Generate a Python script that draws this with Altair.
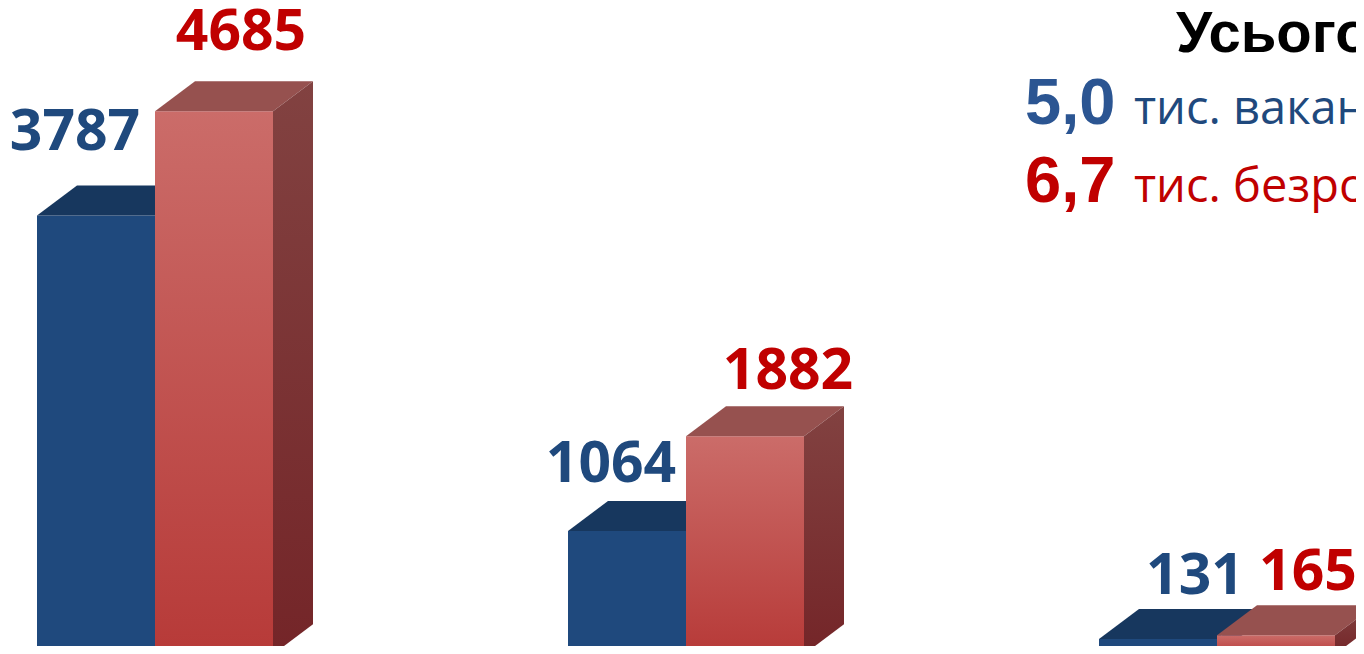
import altair as alt
import pandas as pd

# ---- data ----
groups = ["1", "2", "3"]
vacancies = [3787, 1064, 131]        # blue series
unemployed = [4685, 1882, 165]       # red series
total_title = "Усього:"
total_vac = "5,0"
total_vac_text = "тис. вакансій"
total_unemp = "6,7"
total_unemp_text = "тис. безробітних"

# ---- style / layout (not data) ----
W, H = 1348, 638                      # fits the 1364x654 window with the 8px page margin
PX_PER_GROUP = 531.0
LEFT_PX = 29                          # first bar's left edge inside the plot
X_DOMAIN = [-LEFT_PX / PX_PER_GROUP, (W - LEFT_PX) / PX_PER_GROUP]
PX_PER_VAL = 0.1159
BASE_BELOW = 8.3                      # baseline lies just under the visible area
Y_DOMAIN = [BASE_BELOW / PX_PER_VAL, (H + BASE_BELOW) / PX_PER_VAL]
BAR_W = 118 / PX_PER_GROUP
DEPTH_X = 40 / PX_PER_GROUP
DEPTH_Y = 30 / PX_PER_VAL
# label nudges (pixels) relative to the front-face centre / top
lab_dx = {"blue": [-21, -16, 37], "red": [27, 43, 32]}
lab_rise = {"blue": [65, 49, 45], "red": [61, 47, 45]}

BLUE_FRONT = "#1F497D"
BLUE_TOP = "#17375E"
BLUE_SIDE = "#163A63"
RED_TOP = "#96514F"
BLUE_LABEL = "#1F497D"
RED_LABEL = "#C00000"

red_front_grad = alt.Gradient(
    gradient="linear", x1=0, y1=0, x2=0, y2=1,
    stops=[alt.GradientStop(color="#CB6C69", offset=0),
           alt.GradientStop(color="#B73A38", offset=1)])
red_side_grad = alt.Gradient(
    gradient="linear", x1=0, y1=0, x2=0, y2=1,
    stops=[alt.GradientStop(color="#824241", offset=0),
           alt.GradientStop(color="#742528", offset=1)])

fronts, tops, sides, labels = [], [], [], []
for series, values, offs in (("blue", vacancies, 0.0), ("red", unemployed, BAR_W)):
    for i, (g, v) in enumerate(zip(groups, values)):
        x0 = i + offs
        x1 = x0 + BAR_W
        bid = f"{series}{g}"
        fronts.append({"series": series, "id": bid, "x0": x0, "x1": x1, "v": v})
        for k, (xx, yy, yy2) in enumerate([
                (x0, v, v),
                (x0 + DEPTH_X, v, v + DEPTH_Y),
                (x1, v, v + DEPTH_Y),
                (x1 + DEPTH_X, v + DEPTH_Y, v + DEPTH_Y)]):
            tops.append({"series": series, "id": bid, "k": k, "x": xx, "y": yy, "y2": yy2})
        for k, (xx, yy, yy2) in enumerate([
                (x1, v, 0),
                (x1 + DEPTH_X, v + DEPTH_Y, DEPTH_Y)]):
            sides.append({"series": series, "id": bid, "k": k, "x": xx, "y": yy, "y2": yy2})
        labels.append({
            "series": series,
            "txt": str(v),
            "lx": x0 + BAR_W / 2 + lab_dx[series][i] / PX_PER_GROUP,
            "ly": v + lab_rise[series][i] / PX_PER_VAL,
        })

fronts = pd.DataFrame(fronts)
tops = pd.DataFrame(tops)
sides = pd.DataFrame(sides)
labels = pd.DataFrame(labels)

xs = alt.Scale(domain=X_DOMAIN, nice=False, zero=False)
ys = alt.Scale(domain=Y_DOMAIN, nice=False, zero=False)


def front_layer(series, fill):
    return alt.Chart(fronts[fronts.series == series]).mark_bar(
        color=fill, strokeWidth=0).encode(
        x=alt.X("x0:Q", scale=xs, axis=None),
        x2="x1:Q",
        y=alt.Y("v:Q", scale=ys, axis=None),
        y2=alt.datum(0),
        detail="id:N")


def poly_layers(df, series, fill):
    out = []
    sub = df[df.series == series]
    for bid in sub["id"].unique():
        part = sub[sub["id"] == bid].reset_index(drop=True)
        out.append(alt.Chart(part).mark_area(
            color=fill, strokeWidth=0, interpolate="linear", orient="vertical").encode(
            x=alt.X("x:Q", scale=xs, axis=None),
            y=alt.Y("y:Q", scale=ys, axis=None, stack=None),
            y2="y2:Q"))
    return out


blue_side = poly_layers(sides, "blue", BLUE_SIDE)
blue_front = front_layer("blue", BLUE_FRONT)
blue_top = poly_layers(tops, "blue", BLUE_TOP)
red_front = front_layer("red", red_front_grad)
red_top = poly_layers(tops, "red", RED_TOP)
red_side = poly_layers(sides, "red", red_side_grad)

value_labels = alt.Chart(labels).mark_text(
    font="Open Sans", fontWeight="bold", fontSize=57,
    align="center", baseline="alphabetic").encode(
    x=alt.X("lx:Q", scale=xs, axis=None),
    y=alt.Y("ly:Q", scale=ys, axis=None),
    text="txt:N",
    color=alt.Color("series:N", scale=alt.Scale(
        domain=["blue", "red"], range=[BLUE_LABEL, RED_LABEL]), legend=None))

one = pd.DataFrame({"a": [0]})


def note(text, x, y, font, size, weight, color):
    return alt.Chart(one).mark_text(
        text=text, font=font, fontSize=size, fontWeight=weight, color=color,
        align="left", baseline="alphabetic").encode(
        x=alt.value(x), y=alt.value(y))


notes = [
    note(total_title, 1168, 44, "Liberation Sans", 58, "bold", "#000000"),
    note(total_vac, 1017, 116, "Liberation Sans", 65, "bold", "#2B5592"),
    note(total_vac_text, 1126, 116, "Open Sans", 47, "normal", "#1F497D"),
    note(total_unemp, 1017, 194, "Liberation Sans", 65, "bold", RED_LABEL),
    note(total_unemp_text, 1126, 194, "Open Sans", 47, "normal", RED_LABEL),
]

chart = alt.layer(
    *blue_side, blue_front, *blue_top, red_front, *red_top, *red_side,
    value_labels, *notes
).properties(
    width=W, height=H, padding=0, autosize=alt.AutoSizeParams(type="none")
).configure_view(stroke=None)

chart.save("out.html", embed_options={"renderer": "svg", "actions": False})
